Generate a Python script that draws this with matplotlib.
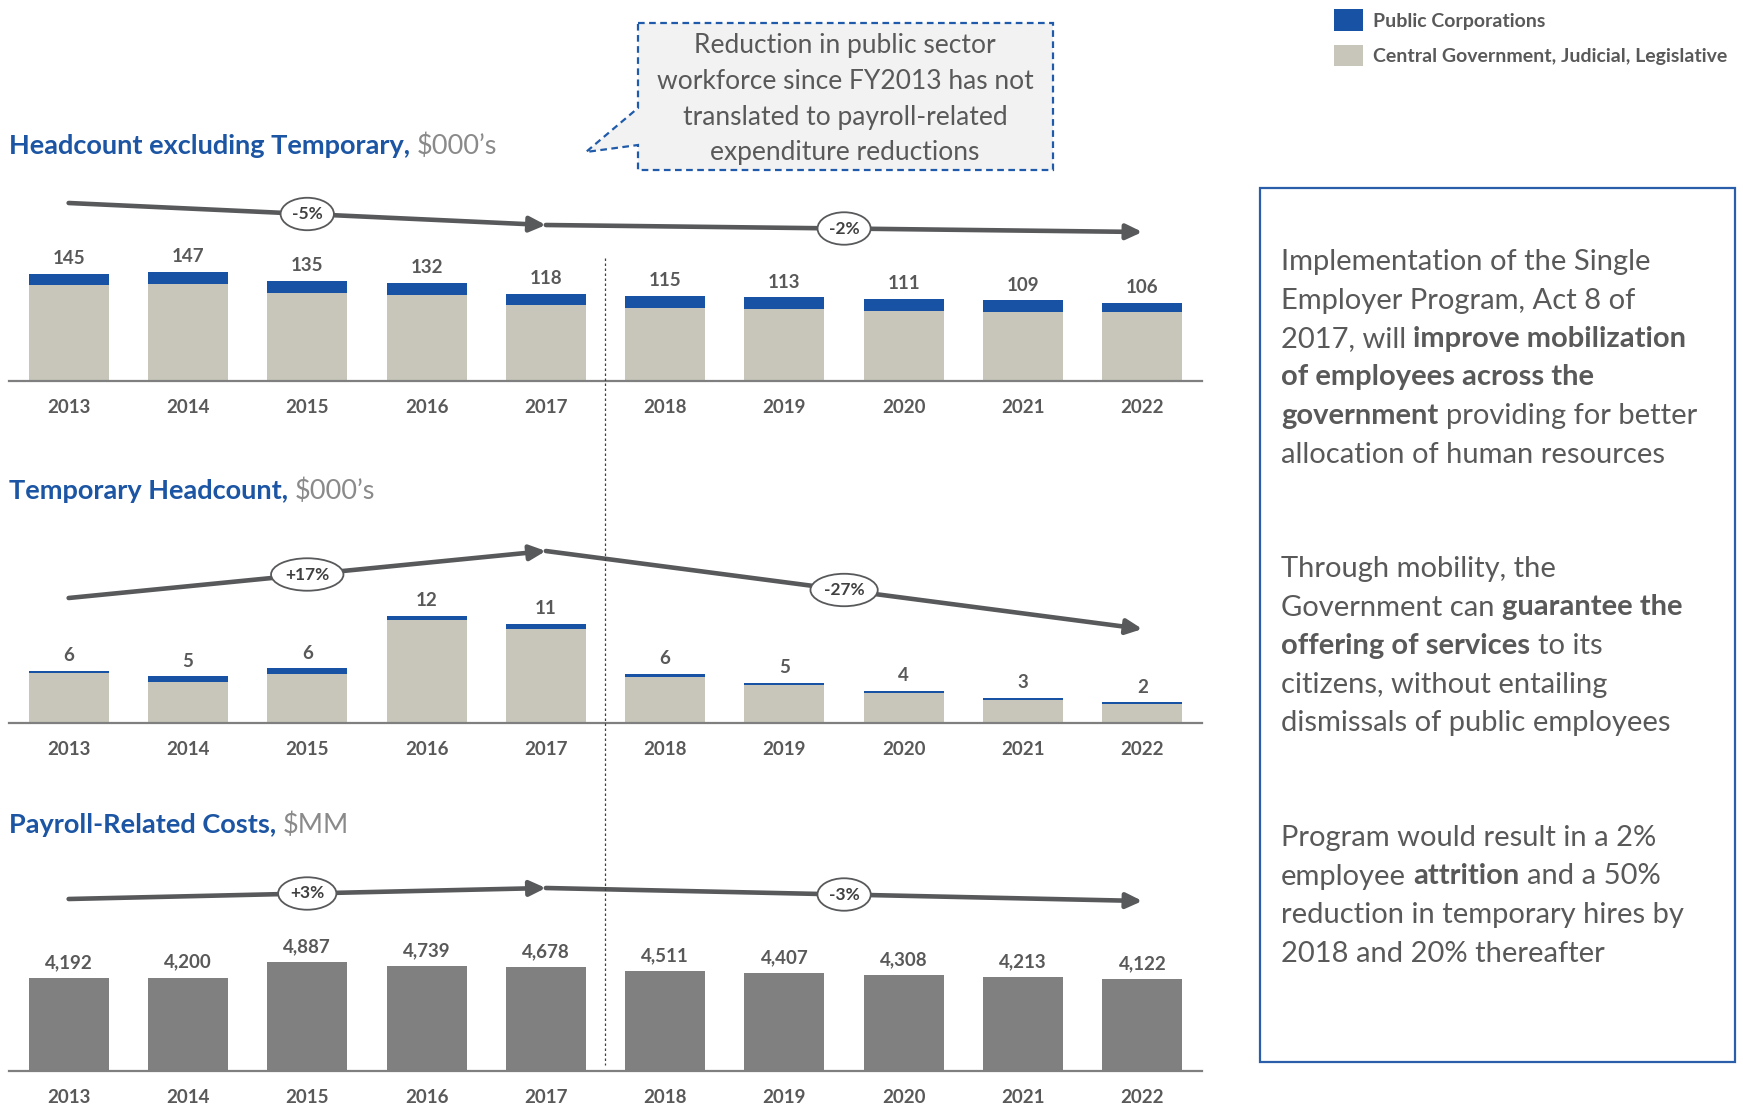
import matplotlib
matplotlib.use("Agg")
import matplotlib.pyplot as plt
import matplotlib.transforms as mtransforms
from matplotlib.patches import Polygon, Rectangle
from matplotlib.lines import Line2D

plt.rcParams['font.family'] = ['Lato', 'DejaVu Sans']

# ---------------- data ----------------
years = ["2013", "2014", "2015", "2016", "2017", "2018", "2019", "2020", "2021", "2022"]

headcount_public = [16, 16, 16, 16, 16, 16, 16, 16, 16, 13]
headcount_central = [129, 131, 119, 116, 102, 99, 97, 95, 93, 93]
headcount_labels = ["145", "147", "135", "132", "118", "115", "113", "111", "109", "106"]
headcount_growth = ["-5%", "-2%"]

temporary_public = [0.2, 0.6, 0.6, 0.5, 0.6, 0.4, 0.2, 0.2, 0.2, 0.2]
temporary_central = [5.6, 4.6, 5.5, 11.5, 10.5, 5.1, 4.3, 3.4, 2.6, 2.1]
temporary_labels = ["6", "5", "6", "12", "11", "6", "5", "4", "3", "2"]
temporary_growth = ["+17%", "-27%"]

payroll_costs = [4192, 4200, 4887, 4739, 4678, 4511, 4407, 4308, 4213, 4122]
payroll_labels = ["4,192", "4,200", "4,887", "4,739", "4,678", "4,511", "4,407", "4,308", "4,213", "4,122"]
payroll_growth = ["+3%", "-3%"]

legend_labels = ["Public Corporations", "Central Government, Judicial, Legislative"]

# ---------------- style ----------------
BLUE_BAR = '#1752A4'
BEIGE = '#C8C6BA'
PAY = '#808080'
TXT = '#595959'
ARROW = '#58595B'
TITLE_BLUE = '#1B55A3'
UNIT_GRAY = '#8A8A8A'
BOX_BLUE = '#2A5DAA'

W, H = 1743, 1107
fig = plt.figure(figsize=(W / 100, H / 100), dpi=100)
renderer = fig.canvas.get_renderer()


def fx(px):
    return px / W


def fy(py):
    return 1 - py / H


def space_width(size, weight):
    a = fig.text(0, 0, "a a", fontsize=size, fontweight=weight)
    b = fig.text(0, 0, "aa", fontsize=size, fontweight=weight)
    w = a.get_window_extent(renderer).width - b.get_window_extent(renderer).width
    a.remove()
    b.remove()
    return w


def rich_line(x_px, y_px, segments, size):
    x = x_px
    for i, (txt, weight, color) in enumerate(segments):
        if i > 0:
            x += space_width(size, weight)
        t = fig.text(fx(x), fy(y_px), txt, fontsize=size, fontweight=weight,
                     color=color, ha='left', va='center')
        x += t.get_window_extent(renderer).width


AX_LEFT, AX_RIGHT = 9, 1202
x = list(range(len(years)))


def make_axes(baseline, top, ymax):
    ax = fig.add_axes([fx(AX_LEFT), fy(baseline), fx(AX_RIGHT) - fx(AX_LEFT), (baseline - top) / H])
    ax.set_xlim(-0.5, len(years) - 0.5)
    ax.set_ylim(0, ymax)
    for s in ['top', 'left', 'right']:
        ax.spines[s].set_visible(False)
    ax.spines['bottom'].set_color('#7F7F7F')
    ax.spines['bottom'].set_linewidth(1.6)
    ax.set_xticks([])
    ax.set_yticks([])
    ax.patch.set_alpha(0)
    return ax


def decorate(ax, baseline, top, totals, labels, arrow_px, growth):
    for i, (tot, lab) in enumerate(zip(totals, labels)):
        ax.annotate(lab, (i, tot), xytext=(0, 11), textcoords='offset points',
                    ha='center', va='center', fontsize=13.5, fontweight='bold', color=TXT)
        ax.annotate(years[i], (i, 0), xytext=(0, -19.3), textcoords='offset points',
                    ha='center', va='center', fontsize=13.5, fontweight='bold', color=TXT,
                    annotation_clip=False)
    trans = mtransforms.blended_transform_factory(ax.transData, ax.transAxes)
    fr = [(baseline - p) / (baseline - top) for p in arrow_px]
    segs = [((0, fr[0]), (4, fr[1])), ((4, fr[1]), (9, fr[2]))]
    for (p0, p1), g in zip(segs, growth):
        ax.annotate("", xy=p1, xytext=p0, xycoords=trans, textcoords=trans,
                    annotation_clip=False,
                    arrowprops=dict(arrowstyle='-|>,head_length=0.95,head_width=0.45',
                                    color=ARROW, lw=3.3, shrinkA=0, shrinkB=0))
        mx = (p0[0] + p1[0]) / 2
        my = (p0[1] + p1[1]) / 2
        ax.text(mx, my, g, transform=trans, ha='center', va='center', fontsize=12.5,
                fontweight='bold', color='#404040', zorder=5,
                bbox=dict(boxstyle='ellipse,pad=0.2', fc='white', ec=ARROW, lw=1.3))


# ---------------- panel 1 ----------------
b1, t1 = 381, 170
ax1 = make_axes(b1, t1, 285)
bc = ax1.bar(x, headcount_central, width=0.67, color=BEIGE, label=legend_labels[1])
bp = ax1.bar(x, headcount_public, bottom=headcount_central, width=0.67, color=BLUE_BAR, label=legend_labels[0])
tot1 = [c + p for c, p in zip(headcount_central, headcount_public)]
decorate(ax1, b1, t1, tot1, headcount_labels, (203, 225, 232), headcount_growth)

# ---------------- panel 2 ----------------
b2, t2 = 723, 510
ax2 = make_axes(b2, t2, 23.8)
ax2.bar(x, temporary_central, width=0.67, color=BEIGE)
ax2.bar(x, temporary_public, bottom=temporary_central, width=0.67, color=BLUE_BAR)
tot2 = [c + p for c, p in zip(temporary_central, temporary_public)]
decorate(ax2, b2, t2, tot2, temporary_labels, (598, 551, 629), temporary_growth)

# ---------------- panel 3 ----------------
b3, t3 = 1071, 850
ax3 = make_axes(b3, t3, 9930)
ax3.bar(x, payroll_costs, width=0.67, color=PAY)
decorate(ax3, b3, t3, payroll_costs, payroll_labels, (899, 888, 901), payroll_growth)

# ---------------- titles ----------------
TS = 19.5
rich_line(9, 146, [("Headcount excluding Temporary,", 'bold', TITLE_BLUE), ("\\$000’s", 'normal', UNIT_GRAY)], TS)
rich_line(9, 491, [("Temporary Headcount,", 'bold', TITLE_BLUE), ("\\$000’s", 'normal', UNIT_GRAY)], TS)
rich_line(9, 825, [("Payroll-Related Costs,", 'bold', TITLE_BLUE), ("\\$MM", 'normal', UNIT_GRAY)], TS)

# ---------------- divider ----------------
div_x = fx(AX_LEFT) + (4.5 + 0.5) / len(years) * (fx(AX_RIGHT) - fx(AX_LEFT))
fig.add_artist(Line2D([div_x, div_x], [fy(258), fy(1065)], transform=fig.transFigure,
                      color='#404040', lw=0.9, linestyle=(0, (2, 2))))

# ---------------- callout ----------------
call = [(638, 23), (1053, 23), (1053, 170), (638, 170), (638, 145), (586, 152), (638, 108)]
fig.add_artist(Polygon([(fx(a), fy(b)) for a, b in call], closed=True, transform=fig.transFigure,
                       facecolor='#F2F2F2', edgecolor='#1F5BAA', lw=1.6, linestyle=(0, (3, 2))))
call_lines = ["Reduction in public sector", "workforce since FY2013 has not",
              "translated to payroll-related", "expenditure reductions"]
for i, ln in enumerate(call_lines):
    fig.text(fx(845), fy(46 + i * 35.5), ln, ha='center', va='center', fontsize=19, color=TXT)

# ---------------- legend ----------------
fig.legend([bp, bc], legend_labels, loc='upper left', bbox_to_anchor=(fx(1334), fy(9.5)),
           frameon=False, borderpad=0, borderaxespad=0,
           prop={'weight': 'bold', 'size': 14}, labelcolor=TXT,
           handlelength=1.5, handleheight=1.3, handletextpad=0.5, labelspacing=0.72)

# ---------------- right box ----------------
fig.add_artist(Rectangle((fx(1260), fy(1062)), fx(1735) - fx(1260), (1062 - 188) / H,
                         transform=fig.transFigure, fill=False, edgecolor=BOX_BLUE, lw=1.6))
N, B = 'normal', 'bold'
para1 = [[("Implementation of the Single", N)],
         [("Employer Program, Act 8 of", N)],
         [("2017, will", N), ("improve mobilization", B)],
         [("of employees across the", B)],
         [("government", B), ("providing for better", N)],
         [("allocation of human resources", N)]]
para2 = [[("Through mobility, the", N)],
         [("Government can", N), ("guarantee the", B)],
         [("offering of services", B), ("to its", N)],
         [("citizens, without entailing", N)],
         [("dismissals of public employees", N)]]
para3 = [[("Program would result in a 2%", N)],
         [("employee", N), ("attrition", B), ("and a 50%", N)],
         [("reduction in temporary hires by", N)],
         [("2018 and 20% thereafter", N)]]
for start, para in [(262, para1), (569, para2), (838, para3)]:
    for i, line in enumerate(para):
        rich_line(1281, start + i * 38.5, [(t, w, TXT) for t, w in line], 21)

fig.savefig("out.png", dpi=100)
